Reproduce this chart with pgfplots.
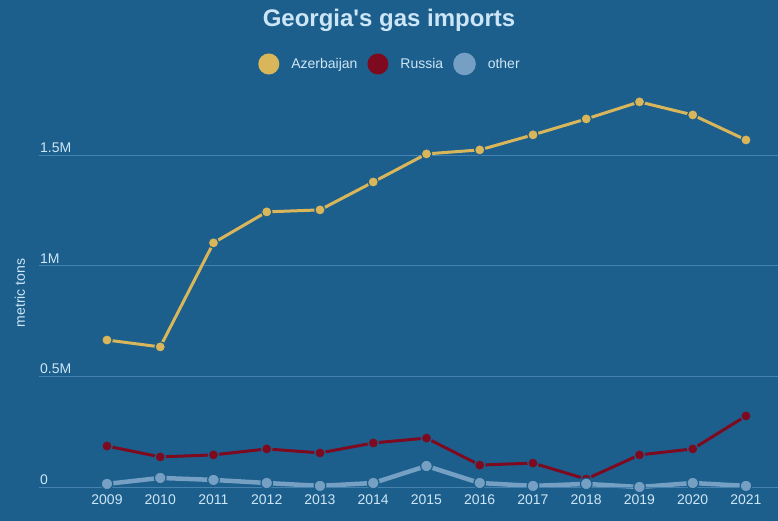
\documentclass[border=0pt]{standalone}
\usepackage{pgfplots}
\pgfplotsset{compat=1.18}
\usepackage{fontspec}
\setmainfont{Liberation Sans}
\definecolor{bg}{RGB}{28,95,140}
\definecolor{txt}{RGB}{205,230,247}
\definecolor{grid}{RGB}{70,130,175}
\definecolor{aze}{RGB}{217,182,90}
\definecolor{rus}{RGB}{125,10,31}
\definecolor{oth}{RGB}{117,159,195}
\pgfplotstableread{
year aze rus oth
2009 0.664 0.185 0.014
2010 0.633 0.136 0.041
2011 1.103 0.145 0.032
2012 1.243 0.172 0.018
2013 1.252 0.154 0.005
2014 1.378 0.199 0.018
2015 1.505 0.221 0.095
2016 1.523 0.099 0.018
2017 1.591 0.108 0.005
2018 1.663 0.036 0.014
2019 1.740 0.145 0.000
2020 1.681 0.172 0.018
2021 1.568 0.321 0.005
}\gasdata
\begin{document}
\begin{tikzpicture}
\fill[bg] (0,0) rectangle (778bp,521bp);
\begin{axis}[
  at={(39bp,34bp)}, anchor=south west,
  scale only axis, width=739bp, height=397bp,
  xmin=2007.723, xmax=2021.601,
  ymin=0, ymax=1.7937,
  clip=false,
  axis line style={draw=none},
  axis x line*=bottom,
  xtick={2009,...,2021},
  xticklabels={2009,2010,2011,2012,2013,2014,2015,2016,2017,2018,2019,2020,2021},
  ytick={0,0.5,1,1.5},
  yticklabels={0,0.5M,1M,1.5M},
  major tick length=0pt,
  ymajorgrids,
  grid style={draw=grid, line width=0.8bp},
  tick label style={font=\fontsize{14bp}{16bp}\selectfont, text=txt},
  yticklabel style={anchor=south west, inner sep=0pt, xshift=1bp, yshift=2bp},
  xticklabel style={yshift=-4bp},
  ylabel={metric tons},
  every axis y label/.style={at={(axis description cs:-0.026,0.4887)}, rotate=90, anchor=center, inner sep=0pt, font=\fontsize{14bp}{16bp}\selectfont, text=txt},
  title={\bfseries Georgia\textquotesingle s gas imports},
  every axis title/.style={font=\fontsize{24bp}{28bp}\selectfont, text=txt, at={(axis description cs:0.4736,1.1587)}, anchor=base, inner sep=0pt},
  legend columns=3,
  legend style={at={(axis description cs:0.4736,1.0655)}, anchor=center, draw=none, fill=none,
    font=\fontsize{14bp}{16bp}\selectfont, text=txt,
    nodes={inner sep=0pt},
    /tikz/every odd column/.append style={column sep=12bp},
    /tikz/every even column/.append style={column sep=10bp}},
  legend image code/.code={\fill[#1] (0bp,0bp) circle (9bp);},
]
\addplot[aze, line width=3bp, mark=*, mark size=5.2bp, mark options={fill=aze, draw=bg, line width=1.2bp}] table[x=year, y=aze] {\gasdata};
\addlegendentry{Azerbaijan}
\addplot[rus, line width=3bp, mark=*, mark size=5.2bp, mark options={fill=rus, draw=bg, line width=1.2bp}] table[x=year, y=rus] {\gasdata};
\addlegendentry{Russia}
\addplot[oth, line width=4.5bp, mark=*, mark size=5.8bp, mark options={fill=oth, draw=bg, line width=1.2bp}] table[x=year, y=oth] {\gasdata};
\addlegendentry{other}
\draw[grid, line width=0.8bp] (axis cs:2007.723,0) -- (axis cs:2021.601,0);
\end{axis}
\pgfresetboundingbox
\useasboundingbox (0,0) rectangle (778bp,521bp);
\end{tikzpicture}
\end{document}
